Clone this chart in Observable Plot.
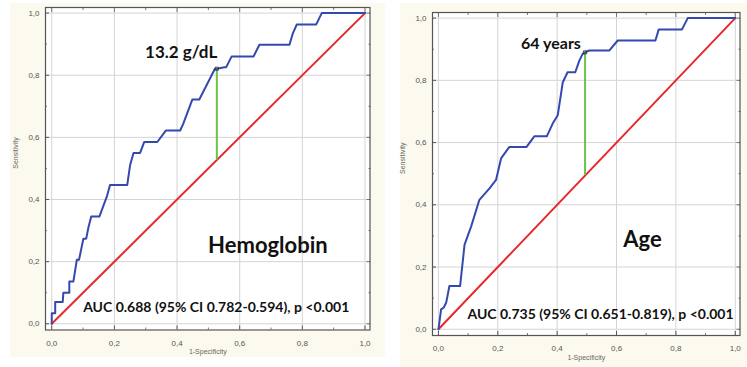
<!DOCTYPE html>
<html>
<head>
<meta charset="utf-8">
<script src="https://cdn.jsdelivr.net/npm/d3@7"></script>
<script src="https://cdn.jsdelivr.net/npm/@observablehq/plot@0.6"></script>
<style>
  html, body { margin: 0; padding: 0; background: #ffffff; }
  #wrap { position: relative; width: 747px; height: 367px; overflow: hidden; background: #fff; }
  .cream { position: absolute; background: #fcfaee; }
  .panel { position: absolute; top: 0; }
  .panel svg { display: block; }
</style>
</head>
<body>
<div id="wrap">
  <div class="cream" style="left:10px; top:3px; width:375px; height:354px;"></div>
  <div class="cream" style="left:400px; top:3px; width:347px; height:364px;"></div>
  <div class="panel" id="left" style="left:0px;"></div>
  <div class="panel" id="right" style="left:375px;"></div>
</div>
<script>
// ---- data ----
const majorTicks = [0, 0.2, 0.4, 0.6, 0.8, 1.0];
const minorTicks = [0.1, 0.3, 0.5, 0.7, 0.9];

// Hemoglobin ROC curve (1-Specificity, Sensitivity)
const hbX = [0, 0, 0.011, 0.011, 0.035, 0.037, 0.056, 0.056, 0.069, 0.080, 0.087, 0.101, 0.110, 0.117, 0.126, 0.152, 0.176, 0.186, 0.241, 0.250, 0.261, 0.282, 0.295, 0.337, 0.364, 0.410, 0.420, 0.449, 0.471, 0.521, 0.527, 0.551, 0.557, 0.574, 0.644, 0.663, 0.759, 0.769, 0.782, 0.844, 0.862, 1.0];
const hbY = [0, 0.034, 0.034, 0.070, 0.070, 0.100, 0.100, 0.136, 0.136, 0.206, 0.206, 0.274, 0.274, 0.310, 0.345, 0.345, 0.410, 0.447, 0.447, 0.510, 0.550, 0.550, 0.585, 0.585, 0.622, 0.622, 0.644, 0.722, 0.722, 0.821, 0.821, 0.826, 0.826, 0.860, 0.860, 0.898, 0.898, 0.933, 0.963, 0.963, 1.0, 1.0];
const hbCutX = 0.527, hbCutY = 0.821;

// Age ROC curve
const ageX = [0, 0.009, 0.018, 0.026, 0.037, 0.073, 0.088, 0.110, 0.138, 0.172, 0.194, 0.211, 0.239, 0.297, 0.323, 0.365, 0.385, 0.402, 0.419, 0.435, 0.461, 0.475, 0.486, 0.494, 0.508, 0.576, 0.604, 0.731, 0.742, 0.820, 0.840, 1.0];
const ageY = [0, 0.064, 0.070, 0.085, 0.139, 0.139, 0.272, 0.330, 0.416, 0.453, 0.480, 0.549, 0.586, 0.586, 0.620, 0.620, 0.661, 0.688, 0.794, 0.826, 0.826, 0.864, 0.885, 0.890, 0.896, 0.896, 0.928, 0.928, 0.963, 0.963, 1.0, 1.0];
const ageCutX = 0.494, ageCutY = 0.890;

const panels = [
  {id: "left", xs: hbX, ys: hbY, cutX: hbCutX, cutY: hbCutY,
   cutLabel: "13.2 g/dL", name: "Hemoglobin",
   auc: "AUC 0.688 (95% CI 0.782-0.594), p <0.001",
   width: 375, height: 367, mL: 45, mR: 5.5, mT: 7, mB: 37.5,
   cutSize: 17, cutSpacing: -0.3,
   cutPos: [0.413, 0.874], namePos: [0.69, 0.252], aucPos: [0.525, 0.0525]},
  {id: "right", xs: ageX, ys: ageY, cutX: ageCutX, cutY: ageCutY,
   cutLabel: "64 years", name: "Age",
   auc: "AUC 0.735 (95% CI 0.651-0.819), p <0.001",
   width: 372, height: 367, mL: 57, mR: 7.5, mT: 12, mB: 32,
   cutSize: 16, cutSpacing: -0.4,
   cutPos: [0.379, 0.918], namePos: [0.6875, 0.288], aucPos: [0.546, 0.048]}
];

const fmt = d => d.toFixed(1).replace(".", ",");
const tickFont = "Liberation Sans, Arial, sans-serif";
const annFont = "Lato, 'Open Sans', sans-serif";

for (const p of panels) {
  const roc = p.xs.map((x, i) => ({x, y: p.ys[i]}));
  const chart = Plot.plot({
    width: p.width, height: p.height,
    marginLeft: p.mL, marginRight: p.mR, marginTop: p.mT, marginBottom: p.mB,
    x: {domain: [-0.02, 1.016], label: null},
    y: {domain: [-0.02, 1.018], label: null},
    style: {background: "transparent", overflow: "visible"},
    marks: [
      Plot.frame({fill: "white", stroke: null}),
      Plot.gridX(majorTicks, {stroke: "#d4d4d4", strokeOpacity: 1}),
      Plot.gridY(majorTicks, {stroke: "#d4d4d4", strokeOpacity: 1}),
      Plot.axisX(majorTicks, {anchor: "bottom", tickSize: -4, tickPadding: 14, tickFormat: fmt, fontSize: 8, fontFamily: tickFont, color: "#555", label: null}),
      Plot.axisY(majorTicks, {anchor: "left", tickSize: -4, tickPadding: 10, tickFormat: fmt, fontSize: 8, fontFamily: tickFont, color: "#555", label: null}),
      Plot.axisX(majorTicks, {anchor: "top", tickSize: -4, tickFormat: () => "", color: "#777", label: null}),
      Plot.axisY(majorTicks, {anchor: "right", tickSize: -4, tickFormat: () => "", color: "#777", label: null}),
      Plot.axisX(minorTicks, {anchor: "bottom", tickSize: -2, tickFormat: () => "", color: "#777", label: null}),
      Plot.axisY(minorTicks, {anchor: "left", tickSize: -2, tickFormat: () => "", color: "#777", label: null}),
      Plot.axisX(minorTicks, {anchor: "top", tickSize: -2, tickFormat: () => "", color: "#777", label: null}),
      Plot.axisY(minorTicks, {anchor: "right", tickSize: -2, tickFormat: () => "", color: "#777", label: null}),
      Plot.frame({stroke: "#555", strokeWidth: 1.2}),
      Plot.text(["Sensitivity"], {frameAnchor: "left", dx: -30, rotate: -90, fontSize: 7, fontFamily: tickFont, fill: "#666"}),
      Plot.text(["1-Specificity"], {frameAnchor: "bottom", dy: 24, fontSize: 7, fontFamily: tickFont, fill: "#666"}),
      Plot.line([{x: 0, y: 0}, {x: 1, y: 1}], {x: "x", y: "y", stroke: "#e8282c", strokeWidth: 2}),
      Plot.ruleX([p.cutX], {x: d => d, y1: d => d, y2: p.cutY, stroke: "#6cc24a", strokeWidth: 2}),
      Plot.line(roc, {x: "x", y: "y", stroke: "#3349b0", strokeWidth: 2, strokeLinejoin: "round"}),
      Plot.dot([[p.cutX, p.cutY]], {x: d => d[0], y: d => d[1], symbol: "square", r: 1.8, stroke: "#333", strokeWidth: 0.8, fill: "none"}),
      Plot.text([p.cutLabel], {x: p.cutPos[0], y: p.cutPos[1], fontSize: p.cutSize, fontWeight: "bold", fontFamily: annFont, fill: "#111", ariaLabel: "ann-cut"}),
      Plot.text([p.name], {x: p.namePos[0], y: p.namePos[1], fontSize: 22, fontWeight: "bold", fontFamily: annFont, fill: "#111", ariaLabel: "ann-name"}),
      Plot.text([p.auc], {x: p.aucPos[0], y: p.aucPos[1], fontSize: 14, fontWeight: "bold", fontFamily: annFont, fill: "#111", ariaLabel: "ann-auc"})
    ]
  });
  const s = d3.select(chart);
  s.selectAll('g[aria-label="ann-cut"] text').style("letter-spacing", p.cutSpacing + "px");
  s.selectAll('g[aria-label="ann-name"] text').style("letter-spacing", "-0.6px");
  s.selectAll('g[aria-label="ann-auc"] text').style("letter-spacing", "-0.2px");
  document.getElementById(p.id).appendChild(chart);
}
</script>
</body>
</html>
